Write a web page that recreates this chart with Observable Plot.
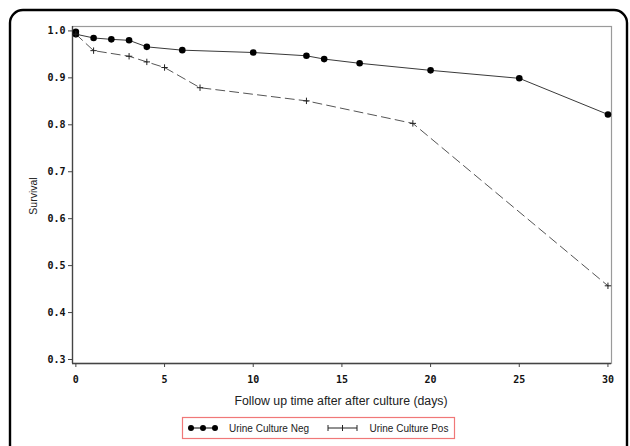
<!DOCTYPE html>
<html>
<head>
<meta charset="utf-8">
<script src="https://cdn.jsdelivr.net/npm/d3@7"></script>
<script src="https://cdn.jsdelivr.net/npm/@observablehq/plot@0.6"></script>
<style>
  html, body { margin: 0; padding: 0; background: #fff; }
  #chart { width: 630px; height: 446px; overflow: hidden; }
</style>
</head>
<body>
<div id="chart"></div>
<script>
// ---- data ----
const negDays = [0, 0, 1, 2, 3, 4, 6, 10, 13, 14, 16, 20, 25, 30];
const negSurv = [0.998, 0.993, 0.985, 0.982, 0.980, 0.966, 0.959, 0.954, 0.947, 0.940, 0.931, 0.916, 0.899, 0.822];
const posDays = [0, 1, 3, 4, 5, 7, 13, 19, 30];
const posSurv = [0.993, 0.958, 0.946, 0.934, 0.922, 0.879, 0.851, 0.803, 0.457];
const xTicks = [0, 5, 10, 15, 20, 25, 30];
const yTicks = [0.3, 0.4, 0.5, 0.6, 0.7, 0.8, 0.9, 1.0];
const seriesNames = ["Urine Culture Neg", "Urine Culture Pos"];
const xLabel = "Follow up time after after culture (days)";
const yLabel = "Survival";

const neg = negDays.map((d, i) => ({day: d, surv: negSurv[i]}));
const pos = posDays.map((d, i) => ({day: d, surv: posSurv[i]}));

const plusSymbol = {
  draw(context, size) {
    const r = Math.sqrt(size) / 2;
    context.moveTo(-r, 0); context.lineTo(r, 0);
    context.moveTo(0, -r); context.lineTo(0, r);
  }
};

const xDomain = [-0.19, 30.2];
const yDomain = [0.2915, 1.0094];
const tickFont = "DejaVu Sans Mono";

const plot = Plot.plot({
  width: 630,
  height: 446,
  marginLeft: 72,
  marginRight: 19,
  marginTop: 26,
  marginBottom: 83,
  style: {background: "#fff", fontFamily: "Liberation Sans, Arial, sans-serif", overflow: "visible"},
  x: {domain: xDomain},
  y: {domain: yDomain},
  marks: [
    Plot.frame({stroke: "#9a9a9a", strokeWidth: 1.2}),
    Plot.ruleX([xDomain[0]], {stroke: "#444", strokeWidth: 1.3}),
    Plot.ruleY([yDomain[0]], {stroke: "#444", strokeWidth: 1.3}),
    Plot.axisY({ticks: yTicks, tickSize: 4, tickPadding: 3, tickFormat: d3.format(".1f"),
      fontFamily: tickFont, fontWeight: "bold", fontSize: 10, stroke: "#444", fill: "#111", label: null}),
    Plot.axisX({ticks: xTicks, tickSize: 4, tickPadding: 8, tickFormat: d3.format("d"),
      fontFamily: tickFont, fontWeight: "bold", fontSize: 10, stroke: "#444", fill: "#111", label: null}),
    Plot.line(neg, {x: "day", y: "surv", stroke: "#3a3a3a", strokeWidth: 1}),
    Plot.line(pos, {x: "day", y: "surv", stroke: "#555", strokeWidth: 1, strokeDasharray: "9,5"}),
    Plot.dot(neg, {x: "day", y: "surv", r: 3.3, fill: "#000", stroke: "none"}),
    Plot.dot(pos, {x: "day", y: "surv", symbol: plusSymbol, r: 3.6, stroke: "#222", fill: "none", strokeWidth: 1})
  ]
});

const svg = d3.select(plot);
// outer rounded border
svg.insert("rect", ":first-child")
  .attr("x", 10).attr("y", 10).attr("width", 617).attr("height", 480)
  .attr("rx", 13).attr("fill", "none").attr("stroke", "#000").attr("stroke-width", 2.4);

// axis labels
svg.append("text").text(yLabel)
  .attr("transform", "translate(37,196) rotate(-90)")
  .attr("text-anchor", "middle").attr("font-size", 10.5).attr("fill", "#222")
  .attr("font-family", "Liberation Sans, Arial, sans-serif");
svg.append("text").text(xLabel)
  .attr("x", 341).attr("y", 405)
  .attr("text-anchor", "middle").attr("font-size", 12.3).attr("fill", "#222")
  .attr("font-family", "Liberation Sans, Arial, sans-serif");

// legend
const lg = svg.append("g").attr("font-family", "Liberation Sans, Arial, sans-serif")
  .attr("font-size", 10).attr("fill", "#222").attr("text-anchor", "start");
lg.append("rect").attr("x", 182.5).attr("y", 417.5).attr("width", 272).attr("height", 21)
  .attr("fill", "none").attr("stroke", "#f07878").attr("stroke-width", 1.2);
const ly = 428;
lg.append("line").attr("x1", 191).attr("x2", 215).attr("y1", ly).attr("y2", ly).attr("stroke", "#000");
[191, 203, 215].forEach(cx => lg.append("circle").attr("cx", cx).attr("cy", ly).attr("r", 3).attr("fill", "#000"));
lg.append("text").text(seriesNames[0]).attr("x", 229).attr("y", ly + 3.5).attr("text-anchor", "start");
lg.append("line").attr("x1", 328).attr("x2", 357).attr("y1", ly).attr("y2", ly).attr("stroke", "#222");
[328, 342.5, 357].forEach(cx => lg.append("line").attr("x1", cx).attr("x2", cx).attr("y1", ly - 3).attr("y2", ly + 3).attr("stroke", "#222"));
lg.append("text").text(seriesNames[1]).attr("x", 369.5).attr("y", ly + 3.5).attr("text-anchor", "start");

document.getElementById("chart").appendChild(plot);
</script>
</body>
</html>
